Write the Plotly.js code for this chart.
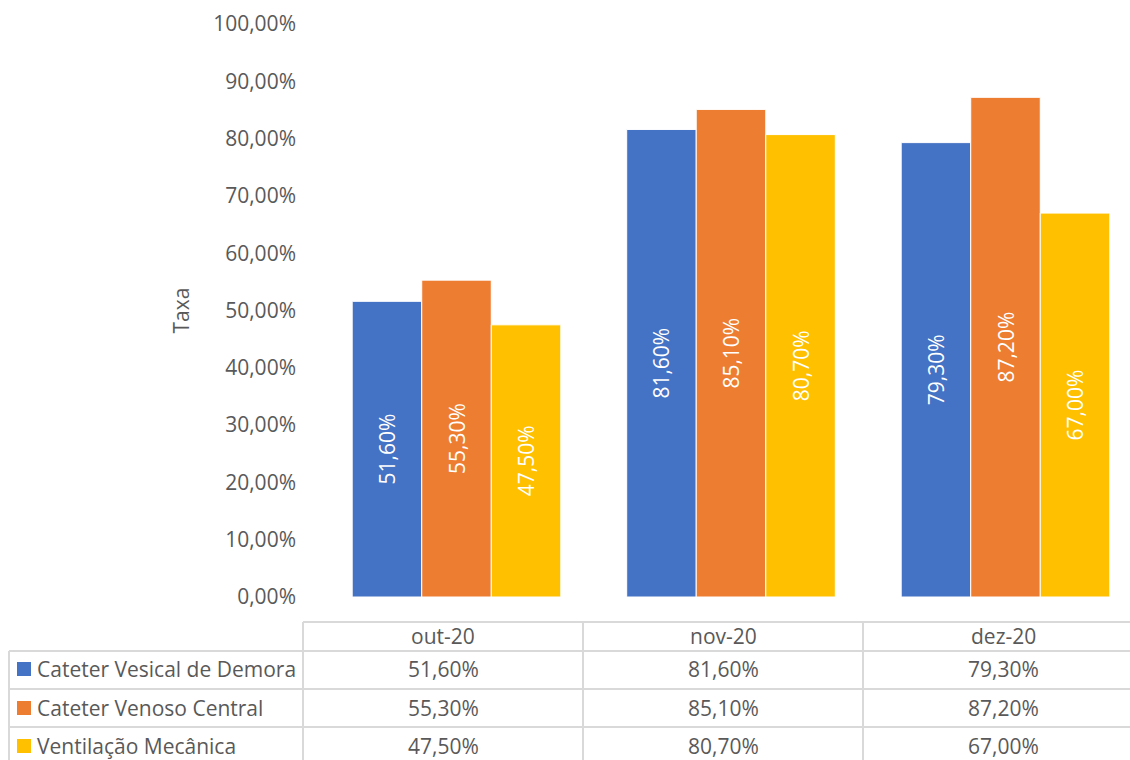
<!DOCTYPE html>
<html>
<head>
<meta charset="utf-8">
<script src="https://cdn.plot.ly/plotly-3.0.1.min.js"></script>
<style>html,body{margin:0;padding:0;background:#fff;}#chart{width:1130px;height:760px;}</style>
</head>
<body>
<div id="chart"></div>
<script>
const categories = ['out-20', 'nov-20', 'dez-20'];
const seriesNames = ['Cateter Vesical de Demora', 'Cateter Venoso Central', 'Ventilação Mecânica'];
const cvdValues = [51.6, 81.6, 79.3];
const cvcValues = [55.3, 85.1, 87.2];
const vmValues = [47.5, 80.7, 67.0];
const colors = ['#4472C4', '#ED7D31', '#FFC000'];

const allValues = [cvdValues, cvcValues, vmValues];
const FONT = 'Open Sans, sans-serif';
const FS = 21;
const GRAY = '#595959';
const LINE = '#D9D9D9';

// plot area in pixels
const L = 303, R = 1130, T = 24, B = 597;
const W = 1130, H = 760;
const px = x => (x - L) / (R - L);
const py = y => (B - y) / (B - T);

function fmt(v) { return v.toFixed(2).replace('.', ',') + '%'; }

const traces = allValues.map((vals, i) => ({
  type: 'bar',
  name: seriesNames[i],
  x: categories,
  y: vals,
  marker: { color: colors[i], line: { color: '#FFFFFF', width: 1 } },
  texttemplate: '%{y:.2f}%',
  textposition: 'inside',
  insidetextanchor: 'middle',
  textangle: -90,
  textfont: { family: FONT, size: FS, color: '#FFFFFF' },
  hoverinfo: 'skip',
  cliponaxis: false
}));

// category centers at 456.5, 730.5, 1005.5 px -> spacing 274.5
const spacing = 274.5, c0 = 456.5;
const xr = [(L - c0) / spacing, (R - c0) / spacing];

const shapes = [];
const annotations = [];
function hline(y, x0, x1) {
  shapes.push({ type: 'line', xref: 'paper', yref: 'paper', x0: px(x0), x1: px(x1), y0: py(y), y1: py(y), line: { color: LINE, width: 2 } });
}
function vline(x, y0, y1) {
  shapes.push({ type: 'line', xref: 'paper', yref: 'paper', x0: px(x), x1: px(x), y0: py(y0), y1: py(y1), line: { color: LINE, width: 2 } });
}
hline(622, 303, 1130);
hline(651, 9, 1130);
hline(689, 9, 1130);
hline(727, 9, 1130);
vline(9, 651, 762);
vline(303, 622, 762);
vline(583, 622, 762);
vline(863, 622, 762);

const colCenters = [443, 723, 1003];
const rowCenters = [669, 708, 746];
categories.forEach((c, j) => {
  annotations.push({ xref: 'paper', yref: 'paper', x: px(colCenters[j]), y: py(636), text: c, showarrow: false, xanchor: 'center', yanchor: 'middle', font: { family: FONT, size: FS, color: GRAY } });
});
allValues.forEach((vals, i) => {
  shapes.push({ type: 'rect', xref: 'paper', yref: 'paper', x0: px(17), x1: px(31), y0: py(rowCenters[i] - 7), y1: py(rowCenters[i] + 7), fillcolor: colors[i], line: { width: 0 } });
  annotations.push({ xref: 'paper', yref: 'paper', x: px(35), y: py(rowCenters[i]), text: seriesNames[i], showarrow: false, xanchor: 'left', yanchor: 'middle', font: { family: FONT, size: FS, color: GRAY } });
  vals.forEach((v, j) => {
    annotations.push({ xref: 'paper', yref: 'paper', x: px(colCenters[j]), y: py(rowCenters[i]), text: fmt(v), showarrow: false, xanchor: 'center', yanchor: 'middle', font: { family: FONT, size: FS, color: GRAY } });
  });
});

const layout = {
  width: W, height: H,
  margin: { l: L, r: W - R, t: T, b: H - B, pad: 0 },
  paper_bgcolor: '#FFFFFF',
  plot_bgcolor: '#FFFFFF',
  separators: ',.',
  showlegend: false,
  barmode: 'group',
  bargap: 0.24,
  bargroupgap: 0,
  font: { family: FONT, size: FS, color: GRAY },
  xaxis: { type: 'category', range: xr, showticklabels: false, showgrid: false, zeroline: false, showline: false, ticks: '' },
  yaxis: {
    range: [0, 100], dtick: 10, tick0: 0, tickformat: '.2f', ticksuffix: '%',
    showgrid: false, zeroline: false, showline: false, ticks: '',
    tickfont: { family: FONT, size: FS, color: GRAY },
    ticklabelstandoff: 6,
    title: { text: 'Taxa', font: { family: FONT, size: FS, color: GRAY }, standoff: 17 }
  },
  shapes: shapes,
  annotations: annotations
};

Plotly.newPlot('chart', traces, layout, { displayModeBar: false, staticPlot: true });
</script>
</body>
</html>
